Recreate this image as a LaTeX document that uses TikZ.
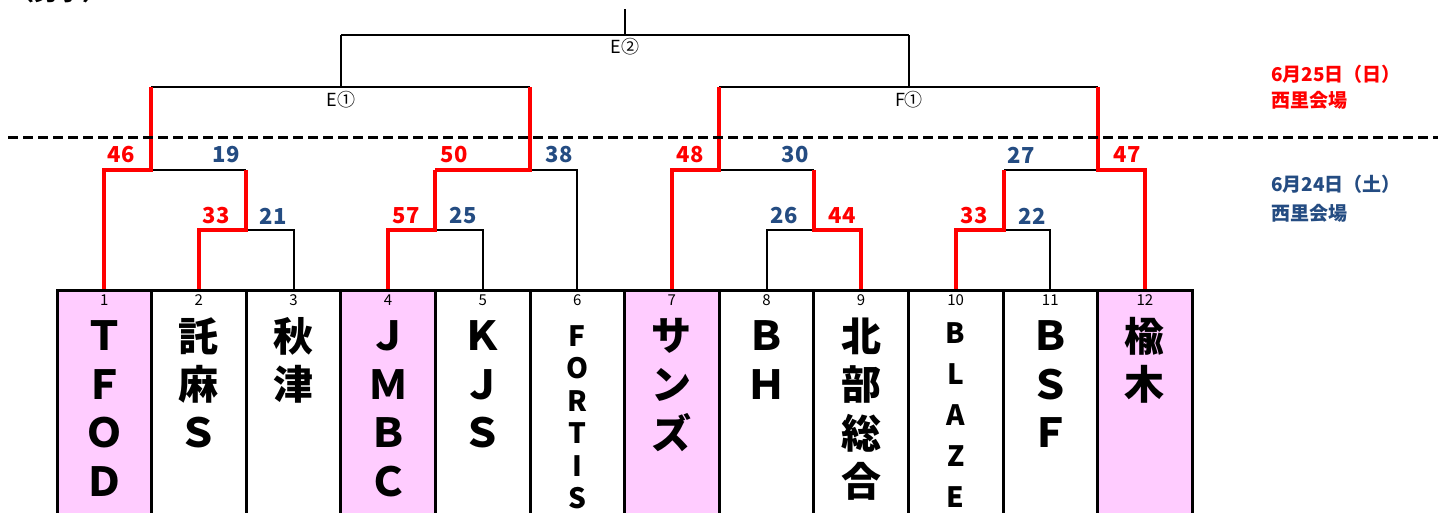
\documentclass[tikz,border=0pt]{standalone}
\usepackage{fontspec}
\newfontfamily\jp{Noto Sans CJK JP}
\definecolor{winred}{RGB}{255,0,0}
\definecolor{scoreblue}{RGB}{36,76,130}
\definecolor{seedpink}{RGB}{255,204,255}
\tikzset{
  teambox/.style={draw,line width=3pt,minimum width=94.6pt,minimum height=240pt,anchor=north,inner sep=0pt},
  seedbox/.style={teambox,fill=seedpink},
  wonline/.style={line width=4pt,winred},
  lostline/.style={line width=2pt,black},
  redscore/.style={font=\jp\bfseries\fontsize{22}{22}\selectfont,winred,inner sep=0pt},
  bluescore/.style={font=\jp\bfseries\fontsize{22}{22}\selectfont,scoreblue,inner sep=0pt},
  seednum/.style={font=\jp\fontsize{15}{15}\selectfont,inner sep=0pt},
  bigname/.style={font=\jp\bfseries\fontsize{40}{40}\selectfont,inner sep=0pt},
  smallname/.style={font=\jp\bfseries\fontsize{28}{28}\selectfont,inner sep=0pt},
  matchlabel/.style={font=\jp\fontsize{18}{18}\selectfont,inner sep=0pt},
  daylabel/.style={font=\jp\bfseries\fontsize{19}{19}\selectfont,inner sep=0pt,anchor=west}
}
\begin{document}
\begin{tikzpicture}[x=1pt,y=-1pt]
\useasboundingbox (0,0) rectangle (1438,513);
\clip (0,0) rectangle (1438,513);
\fill[white] (0,0) rectangle (1438,513);
% title (cut off at the top)
\node[font=\jp\bfseries\fontsize{24}{24}\selectfont] (title) at (58,-9) {（男子）};
% team columns
\foreach \i in {1,...,12}
  \node[teambox] (c\i) at ({57+94.6*(\i-0.5)},289) {};
\foreach \i in {1,4,7,12}
  \node[seedbox] (s\i) at ({57+94.6*(\i-0.5)},289) {};
\foreach \i in {1,...,12}
  \node[seednum] (num\i) at ({57+94.6*(\i-0.5)},300) {\i};
% team names
\foreach \n/\name in {1/{Ｔ,Ｆ,Ｏ,Ｄ},2/{託,麻,Ｓ},3/{秋,津},4/{Ｊ,Ｍ,Ｂ,Ｃ},5/{Ｋ,Ｊ,Ｓ},
    7/{サ,ン,ズ},8/{Ｂ,Ｈ},9/{北,部,総,合},11/{Ｂ,Ｓ,Ｆ},12/{楡,木}}
  \foreach \ch [count=\r] in \name
    \node[bigname] (n\n-\r) at ({57+94.6*(\n-0.5)},{287.5+48.5*\r}) {\ch};
\foreach \ch [count=\r] in {F,O,R,T,I,S}
  \node[smallname] (n6-\r) at ({57+94.6*5.5},{303.5+32.5*\r}) {\ch};
\foreach \ch [count=\r] in {B,L,A,Z,E}
  \node[smallname] (n10-\r) at ({57+94.6*9.5},{292+41*\r}) {\ch};
% match points
\coordinate (m23) at (246,230);
\coordinate (m1) at (151,170);
\coordinate (m45) at (435,230);
\coordinate (m6) at (530,170);
\coordinate (e1) at (341,87);
\coordinate (m89) at (814,230);
\coordinate (m7) at (719,170);
\coordinate (m1011) at (1004,230);
\coordinate (m12) at (1098,170);
\coordinate (f1) at (909,87);
\coordinate (e2) at (625,35);
\coordinate (top) at (625,9);
% losing sides
\draw[lostline] (c3.north) |- (m23);
\draw[lostline] (m23 |- m1) -- (m1);
\draw[lostline] (c5.north) |- (m45);
\draw[lostline] (c6.north) |- (m6);
\draw[lostline] (m1 |- e1) -- (m6 |- e1);
\draw[lostline] (e1) -- (e1 |- e2);
\draw[lostline] (c8.north) |- (m89);
\draw[lostline] (m89 |- m7) -- (m7);
\draw[lostline] (c11.north) |- (m1011);
\draw[lostline] (m1011 |- m12) -- (m12);
\draw[lostline] (m7 |- f1) -- (m12 |- f1);
\draw[lostline] (f1) -- (f1 |- e2);
\draw[lostline] (e1 |- e2) -- (f1 |- e2);
\draw[lostline] (e2) -- (top);
% winning sides
\draw[wonline] (c2.north) |- (m23) -- (m23 |- m1);
\draw[wonline] (c1.north) |- (m1) -- (m1 |- e1);
\draw[wonline] (c4.north) |- (m45) -- (m45 |- m6);
\draw[wonline] (m45 |- m6) -- (m6) -- (m6 |- e1);
\draw[wonline] (c9.north) |- (m89) -- (m89 |- m7);
\draw[wonline] (c7.north) |- (m7) -- (m7 |- f1);
\draw[wonline] (c10.north) |- (m1011) -- (m1011 |- m12);
\draw[wonline] (c12.north) |- (m12) -- (m12 |- f1);
% scores
\node[redscore] (sc1) at (121,155) {46};
\node[bluescore] (sc2) at (226,155) {19};
\node[redscore] (sc3) at (216,216) {33};
\node[bluescore] (sc4) at (273,216) {21};
\node[redscore] (sc5) at (406,216) {57};
\node[bluescore] (sc6) at (463,216) {25};
\node[redscore] (sc7) at (454,155) {50};
\node[bluescore] (sc8) at (559,155) {38};
\node[redscore] (sc9) at (690,155) {48};
\node[bluescore] (sc10) at (795,155) {30};
\node[bluescore] (sc11) at (784,216) {26};
\node[redscore] (sc12) at (842,216) {44};
\node[bluescore] (sc13) at (1021,155) {27};
\node[redscore] (sc14) at (1127,155) {47};
\node[redscore] (sc15) at (974,216) {33};
\node[bluescore] (sc16) at (1032,216) {22};
% match names
\node[matchlabel] (le1) at (341,100) {E①};
\node[matchlabel] (lf1) at (909,100) {F①};
\node[matchlabel] (le2) at (625,47) {E②};
% day divider and dates
\draw[line width=3pt,dash pattern=on 10pt off 5pt] (8,138) -- (1438,138);
\node[daylabel,winred] (day2) at (1271,74) {6月25日（日）};
\node[daylabel,winred] (hall2) at (1271,100) {西里会場};
\node[daylabel,scoreblue] (day1) at (1271,184) {6月24日（土）};
\node[daylabel,scoreblue] (hall1) at (1271,213) {西里会場};
\end{tikzpicture}
\end{document}
